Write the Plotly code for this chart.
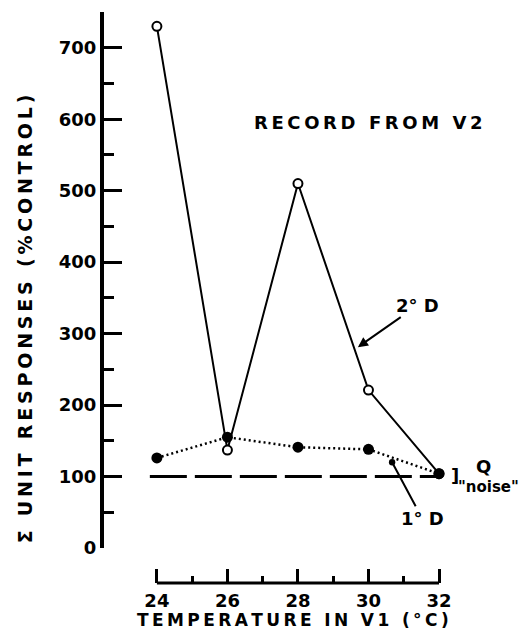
import plotly.graph_objects as go

# V1 cooling temperature (°C) and summed unit responses recorded in V2 (% of control)
temps = [24, 26, 28, 30, 32]
secondary_d = [730, 137, 510, 221, 104]   # 2° D
primary_d = [126, 155, 141, 138, 104]     # 1° D
noise_temps = [23.8, 32]
noise_level = [100, 100]                  # "noise" level (Q)

x_ticks = [24, 26, 28, 30, 32]
x_minor = [25, 27, 29, 31]
y_ticks = [0, 100, 200, 300, 400, 500, 600, 700]
y_minor = [50, 150, 250, 350, 450, 550, 650, 750]

FONT = "DejaVu Sans"
THIN = "\u2009"


def spaced(s):
    """Letter-spaced label text."""
    return THIN.join(s)


fig = go.Figure()

fig.add_trace(go.Scatter(
    x=noise_temps, y=noise_level, mode="lines",
    line=dict(color="black", width=3, dash="37px,8px"),
    hoverinfo="skip",
))
fig.add_trace(go.Scatter(
    x=temps, y=secondary_d, mode="lines+markers", name="2° D",
    line=dict(color="black", width=2),
    marker=dict(symbol="circle", size=9, color="white",
                line=dict(color="black", width=2)),
    cliponaxis=False,
))
fig.add_trace(go.Scatter(
    x=temps, y=primary_d, mode="lines+markers", name="1° D",
    line=dict(color="black", width=2.5, dash="2px,3px"),
    marker=dict(symbol="circle", size=11, color="black"),
    cliponaxis=False,
))

tick_font = dict(family=FONT, size=18, color="black", weight="bold")

fig.update_layout(
    width=522, height=643,
    margin=dict(l=104, r=10, t=12, b=60),
    plot_bgcolor="white", paper_bgcolor="white",
    showlegend=False,
    font=dict(family=FONT, size=18, color="black"),
    xaxis=dict(
        range=[22.5, 34.07], anchor="free", position=0,
        showgrid=False, zeroline=False, showline=False,
        tickmode="array", tickvals=x_ticks, ticktext=[str(v) for v in x_ticks],
        ticks="inside", ticklen=14, tickwidth=3, tickcolor="black",
        minor=dict(tickmode="array", tickvals=x_minor, ticks="inside",
                   ticklen=7, tickwidth=3, tickcolor="black", showgrid=False),
        tickfont=tick_font, ticklabelstandoff=5,
    ),
    yaxis=dict(
        domain=[0.0613, 1], range=[0, 750],
        showgrid=False, zeroline=False,
        showline=True, linewidth=4, linecolor="black",
        tickmode="array", tickvals=y_ticks, ticktext=[str(v) for v in y_ticks],
        ticks="inside", ticklen=18, tickwidth=3, tickcolor="black",
        minor=dict(tickmode="array", tickvals=y_minor, ticks="inside",
                   ticklen=10, tickwidth=3, tickcolor="black", showgrid=False),
        tickfont=tick_font,
    ),
)

# temperature axis line spans only the tested range
fig.add_shape(type="line", xref="x", yref="paper",
              x0=x_ticks[0], x1=x_ticks[-1], y0=0, y1=0,
              line=dict(color="black", width=3))

label_font = dict(family=FONT, size=18, color="black", weight="bold")

fig.add_annotation(text=spaced("RECORD FROM V2"), x=30, y=596,
                   xref="x", yref="y", showarrow=False, font=label_font)

fig.add_annotation(text="2° D", x=29.7, y=281, xref="x", yref="y",
                   ax=60, ay=-42, showarrow=True, arrowhead=2, arrowsize=1,
                   arrowwidth=2, arrowcolor="black", font=label_font)
fig.add_annotation(text="1° D", x=30.67, y=120, xref="x", yref="y",
                   ax=30, ay=56, showarrow=True, arrowhead=6, arrowsize=0.8,
                   arrowwidth=2, arrowcolor="black", font=label_font)

# noise bracket next to the last point
last_x, last_y = temps[-1], primary_d[-1]
fig.add_annotation(text="]", x=last_x, y=last_y, xref="x", yref="y",
                   xshift=16, yshift=-2, showarrow=False, font=label_font)
fig.add_annotation(text="Q", x=last_x, y=last_y, xref="x", yref="y",
                   xshift=44, yshift=7, showarrow=False, font=label_font)
fig.add_annotation(text='"noise"', x=last_x, y=last_y, xref="x", yref="y",
                   xshift=49, yshift=-13, showarrow=False,
                   font=dict(family=FONT, size=15, color="black", weight="bold"))

# axis titles
fig.add_annotation(text=spaced("Σ UNIT RESPONSES (%CONTROL)"), textangle=-90,
                   x=0, xref="paper", xshift=-79, xanchor="center",
                   y=320, yref="y", yanchor="middle", showarrow=False,
                   font=dict(family=FONT, size=19, color="black", weight="bold"))
fig.add_annotation(text=spaced("TEMPERATURE IN V1 (°C)"),
                   x=27.85, xref="x", xanchor="center",
                   y=0, yref="paper", yshift=-37, yanchor="middle",
                   showarrow=False,
                   font=dict(family=FONT, size=17, color="black", weight="bold"))

fig.write_html("out.html")
